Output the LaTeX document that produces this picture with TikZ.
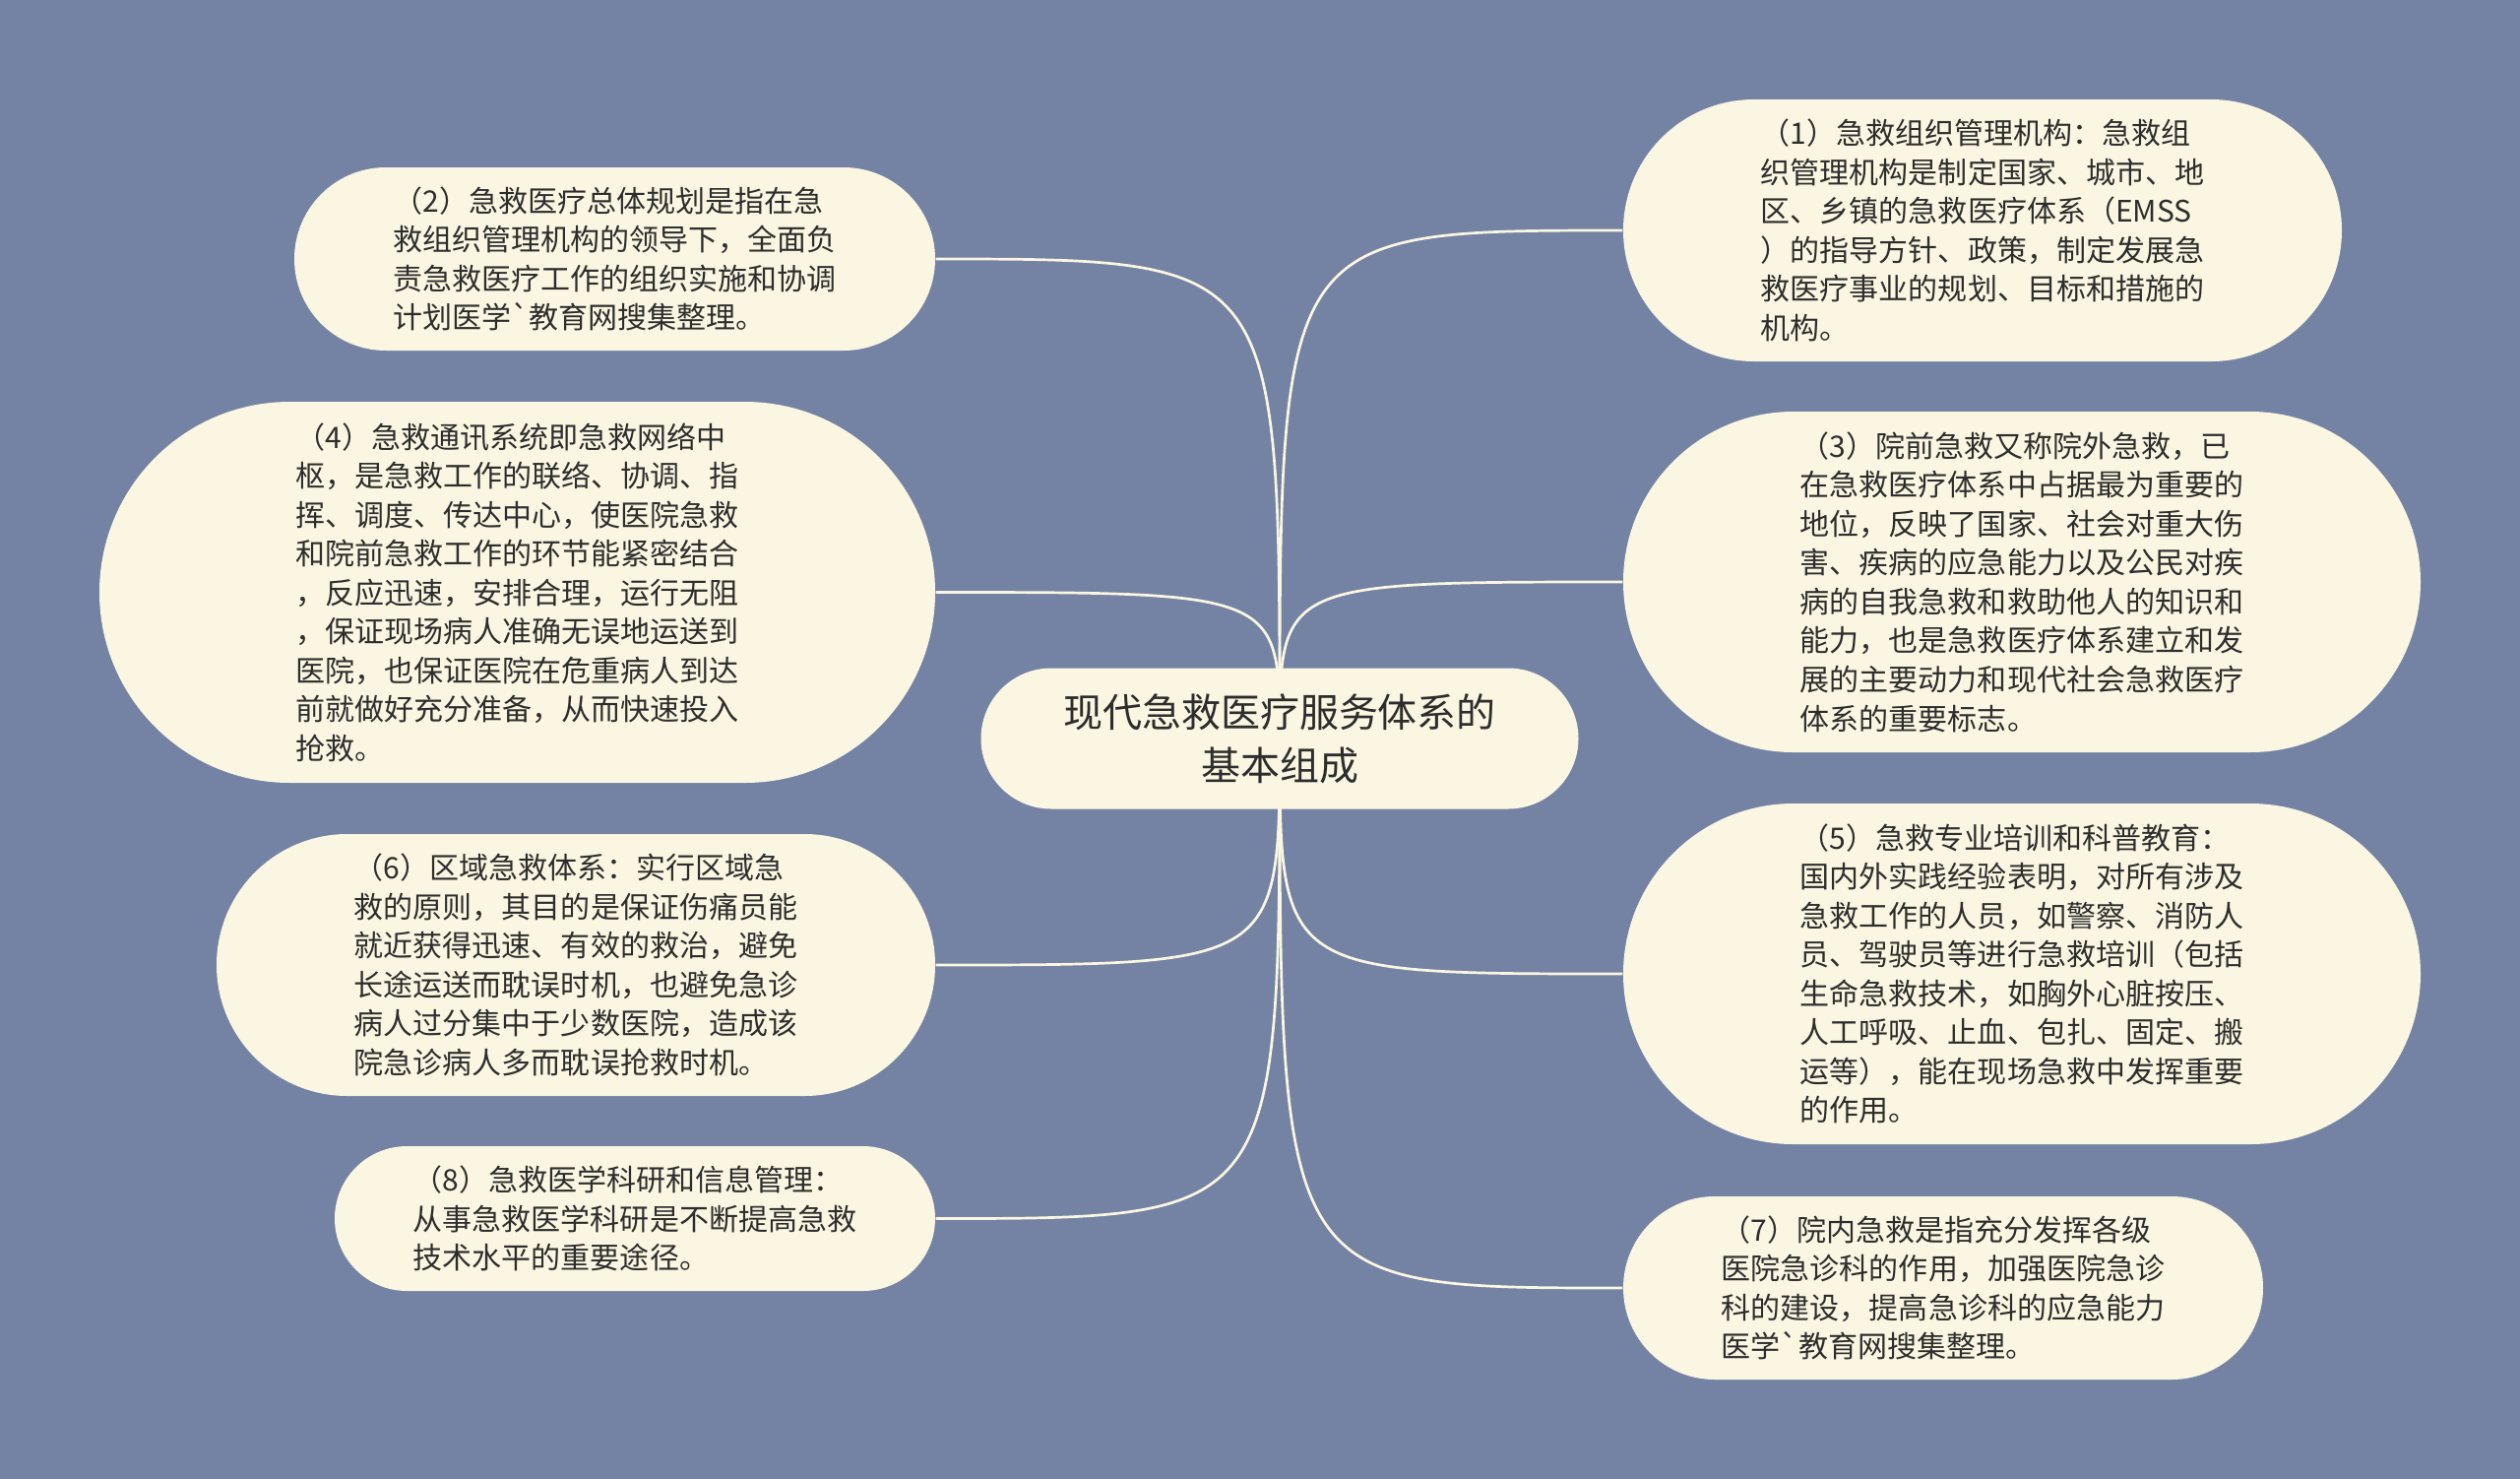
\documentclass[tikz,border=0pt]{standalone}
\usepackage{fontspec}
\setmainfont{Noto Sans CJK SC}[Ligatures=TeXOff]
\usepackage{tikz}
\usetikzlibrary{backgrounds}

\definecolor{bgblue}{RGB}{116,131,164}
\definecolor{cream}{RGB}{250,246,225}
\definecolor{inkgray}{RGB}{45,45,45}

\tikzset{
    leaf/.style={fill=cream, text=inkgray, align=left, inner sep=0pt,
        font=\fontsize{8.54pt}{11.25pt}\selectfont},
    link/.style={draw=cream, line width=0.27mm}
}

\begin{document}
\begin{tikzpicture}[x=0.1mm,y=-0.1mm]
            % root
            \node[fill=cream, text=inkgray, align=center, inner sep=0pt,
                minimum width=60.7mm, minimum height=14.3mm, rounded corners=7.14mm,
                font=\fontsize{11.38pt}{15.4pt}\selectfont] (root) at (1300,750)
                {现代急救医疗服务体系的\\基本组成};

            % left side
            \node[leaf, minimum width=65.1mm, minimum height=18.6mm, rounded corners=9.29mm] (n2) at (624.5,263)
                {（2）急救医疗总体规划是指在急\\救组织管理机构的领导下，全面负\\责急救医疗工作的组织实施和协调\\计划医学`教育网搜集整理。};
            \node[leaf, minimum width=84.9mm, minimum height=38.7mm, rounded corners=19.34mm] (n4) at (525.5,601.5)
                {（4）急救通讯系统即急救网络中\\枢，是急救工作的联络、协调、指\\挥、调度、传达中心，使医院急救\\和院前急救工作的环节能紧密结合\\，反应迅速，安排合理，运行无阻\\，保证现场病人准确无误地运送到\\医院，也保证医院在危重病人到达\\前就做好充分准备，从而快速投入\\抢救。};
            \node[leaf, minimum width=73mm, minimum height=26.6mm, rounded corners=13.29mm] (n6) at (585,980)
                {（6）区域急救体系：实行区域急\\救的原则，其目的是保证伤痛员能\\就近获得迅速、有效的救治，避免\\长途运送而耽误时机，也避免急诊\\病人过分集中于少数医院，造成该\\院急诊病人多而耽误抢救时机。};
            \node[leaf, minimum width=61mm, minimum height=14.7mm, rounded corners=7.34mm] (n8) at (645,1237.5)
                {（8）急救医学科研和信息管理：\\从事急救医学科研是不断提高急救\\技术水平的重要途径。};

            % right side
            \node[leaf, minimum width=73mm, minimum height=26.6mm, rounded corners=13.29mm] (n1) at (2014,234)
                {（1）急救组织管理机构：急救组\\织管理机构是制定国家、城市、地\\区、乡镇的急救医疗体系（EMSS\\）的指导方针、政策，制定发展急\\救医疗事业的规划、目标和措施的\\机构。};
            \node[leaf, minimum width=81mm, minimum height=34.6mm, rounded corners=17.29mm] (n3) at (2054,591)
                {（3）院前急救又称院外急救，已\\在急救医疗体系中占据最为重要的\\地位，反映了国家、社会对重大伤\\害、疾病的应急能力以及公民对疾\\病的自我急救和救助他人的知识和\\能力，也是急救医疗体系建立和发\\展的主要动力和现代社会急救医疗\\体系的重要标志。};
            \node[leaf, minimum width=81mm, minimum height=34.6mm, rounded corners=17.29mm] (n5) at (2054,989)
                {（5）急救专业培训和科普教育：\\国内外实践经验表明，对所有涉及\\急救工作的人员，如警察、消防人\\员、驾驶员等进行急救培训（包括\\生命急救技术，如胸外心脏按压、\\人工呼吸、止血、包扎、固定、搬\\运等），能在现场急救中发挥重要\\的作用。};
            \node[leaf, minimum width=65mm, minimum height=18.6mm, rounded corners=9.29mm] (n7) at (1974,1308)
                {（7）院内急救是指充分发挥各级\\医院急诊科的作用，加强医院急诊\\科的建设，提高急诊科的应急能力\\医学`教育网搜集整理。};

            \begin{scope}[on background layer]
                \fill[bgblue] (0,0) rectangle (2560,1502);
                % links
                \foreach \n in {n2,n4,n6,n8}
                    \draw[link] (root.center) .. controls (root.center |- \n.east) .. (\n.east);
                \foreach \n in {n1,n3,n5,n7}
                    \draw[link] (root.center) .. controls (root.center |- \n.west) .. (\n.west);
            \end{scope}
\end{tikzpicture}
\end{document}
